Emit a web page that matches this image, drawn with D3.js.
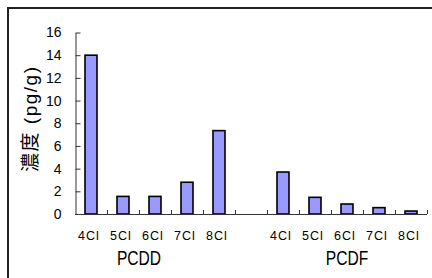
<!DOCTYPE html>
<html>
<head>
<meta charset="utf-8">
<script src="https://cdn.jsdelivr.net/npm/d3@7"></script>
<style>
  body { margin: 0; background: #fff; }
  svg { display: block; }
</style>
</head>
<body>
<div id="chart"></div>
<script>
// categories (the blank one separates the two groups)
var categories = ["D4", "D5", "D6", "D7", "D8", "gap", "F4", "F5", "F6", "F7", "F8"];
var catLabels = ["4Cl", "5Cl", "6Cl", "7Cl", "8Cl", "", "4Cl", "5Cl", "6Cl", "7Cl", "8Cl"];
var values = [14, 1.55, 1.55, 2.8, 7.35, null, 3.7, 1.47, 0.88, 0.56, 0.26];
var groups = ["PCDD", "PCDF"];
var yTicks = [0, 2, 4, 6, 8, 10, 12, 14, 16];

var W = 432, H = 278;
var svg = d3.select("#chart").append("svg")
  .attr("width", W).attr("height", H);

// outer frame (only left and top edges visible)
svg.append("path")
  .attr("d", "M8,278V8H432")
  .attr("fill", "none")
  .attr("stroke", "#222")
  .attr("stroke-width", 2);

var x = d3.scaleBand()
  .domain(categories)
  .range([75, 427])
  .padding(0);

var y = d3.scaleLinear()
  .domain([0, 16])
  .range([214, 32.5]);

// Y axis, ticks pointing inside
var yAxis = svg.append("g")
  .attr("transform", "translate(75.5,0)")
  .call(d3.axisLeft(y).tickValues(yTicks).tickSizeInner(-5).tickSizeOuter(0).tickPadding(14));
yAxis.select(".domain").attr("stroke", "#333");
yAxis.selectAll(".tick line").attr("stroke", "#333");
yAxis.selectAll("text")
  .attr("font-family", "Liberation Sans, Arial, sans-serif")
  .attr("font-size", "14px")
  .attr("fill", "#000");

// bars
svg.selectAll("rect.bar")
  .data(categories.map(function(c, i) { return {c: c, v: values[i]}; }).filter(function(d) { return d.v != null; }))
  .enter().append("rect")
  .attr("class", "bar")
  .attr("x", function(d) { return x(d.c) + x.bandwidth() / 2 - 6; })
  .attr("y", function(d) { return y(d.v); })
  .attr("width", 12)
  .attr("height", function(d) { return y(0) - y(d.v); })
  .attr("fill", "#9999ff")
  .attr("stroke", "#000")
  .attr("stroke-width", 1.6);

// X axis line
svg.append("line")
  .attr("x1", x.range()[0]).attr("x2", x.range()[1])
  .attr("y1", y(0) + 0.5).attr("y2", y(0) + 0.5)
  .attr("stroke", "#333");

// tick marks at category boundaries
var bounds = categories.map(function(c) { return x(c); }).concat([x.range()[1]]);
svg.selectAll("line.xtick")
  .data(bounds.slice(1))
  .enter().append("line")
  .attr("class", "xtick")
  .attr("x1", function(d) { return Math.round(d) + 0.5; })
  .attr("x2", function(d) { return Math.round(d) + 0.5; })
  .attr("y1", y(0)).attr("y2", y(0) - 4)
  .attr("stroke", "#333");

// category labels
svg.selectAll("text.cat")
  .data(categories)
  .enter().append("text")
  .attr("class", "cat")
  .attr("x", function(d) { return x(d) + x.bandwidth() / 2 - 2; })
  .attr("y", 240)
  .attr("text-anchor", "middle")
  .attr("font-family", "Liberation Sans, Arial, sans-serif")
  .attr("font-size", "12.5px")
  .attr("letter-spacing", "1px")
  .text(function(d, i) { return catLabels[i]; });

// group labels (condensed look)
var groupX = [
  (x("D5") + x("D6")) / 2 + x.bandwidth() / 2,
  x("F6") + x.bandwidth() / 2
];
svg.selectAll("text.grp")
  .data(groups)
  .enter().append("text")
  .attr("class", "grp")
  .attr("transform", function(d, i) { return "translate(" + groupX[i] + ",265) scale(0.78,1)"; })
  .attr("text-anchor", "middle")
  .attr("font-family", "Liberation Sans, Arial, sans-serif")
  .attr("font-size", "20px")
  .text(function(d) { return d; });

// y axis title
svg.append("text")
  .attr("transform", "translate(37,119.5) rotate(-90)")
  .attr("text-anchor", "middle")
  .attr("font-family", "Liberation Sans, 'Noto Sans CJK JP', sans-serif")
  .attr("font-size", "19px")
  .attr("textLength", 105)
  .attr("lengthAdjust", "spacing")
  .text("濃度 (pg/g)");
</script>
</body>
</html>
